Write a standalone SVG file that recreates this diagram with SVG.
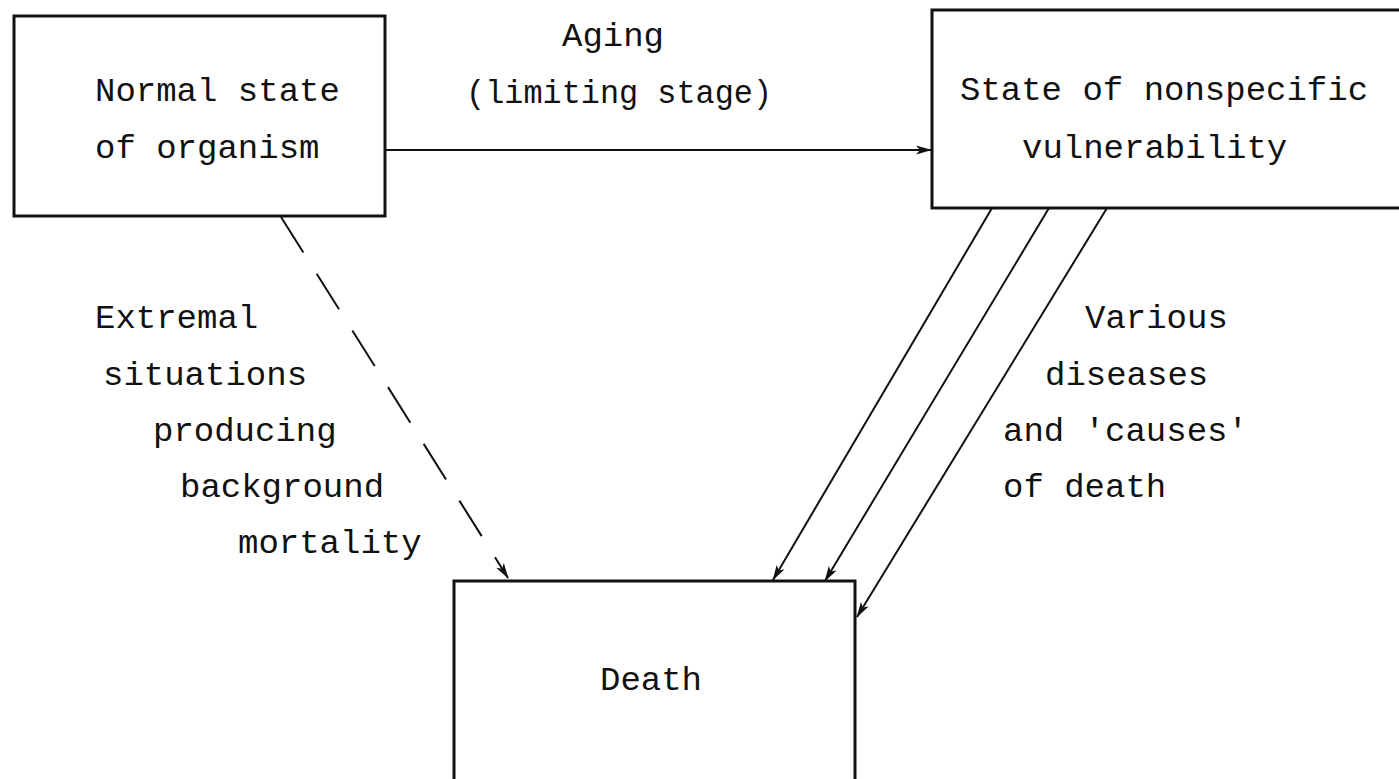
<svg xmlns="http://www.w3.org/2000/svg" width="1399" height="779" viewBox="0 0 1399 779">
<style>
.box{fill:#fff;stroke:#111;stroke-width:3}
.t{font-family:"Liberation Mono","DejaVu Sans Mono",monospace;font-size:34px;fill:#111}
.c{stroke:#111;stroke-width:2;fill:none}
</style>
<defs>
<marker id="ah" markerWidth="16" markerHeight="10" refX="15" refY="5" orient="auto" markerUnits="userSpaceOnUse">
<path d="M0,0.5 L16,5 L0,9.5 L4,5 Z" fill="#111"/>
</marker>
</defs>
<rect width="1399" height="779" fill="#fff"/>
<g id="connectors">
<line class="c" x1="385" y1="150" x2="931" y2="150" marker-end="url(#ah)"/>
<line class="c" x1="281" y1="217" x2="508" y2="578" stroke-dasharray="42,25" marker-end="url(#ah)"/>
<line class="c" x1="992" y1="208" x2="773" y2="580" marker-end="url(#ah)"/>
<line class="c" x1="1049" y1="208" x2="825" y2="581" marker-end="url(#ah)"/>
<line class="c" x1="1107" y1="208" x2="857" y2="617" marker-end="url(#ah)"/>
</g>
<g id="normal">
<rect class="box" x="14" y="16" width="371" height="200"/>
<text class="t" x="95" y="101">Normal state</text>
<text class="t" x="95" y="158">of organism</text>
</g>
<g id="vulnerable">
<rect class="box" x="932" y="10" width="480" height="198"/>
<text class="t" x="960" y="100">State of nonspecific</text>
<text class="t" x="1022" y="158">vulnerability</text>
</g>
<g id="death">
<rect class="box" x="454" y="581" width="401" height="210"/>
<text class="t" x="600" y="690">Death</text>
</g>
<g id="labels">
<text class="t" x="562" y="46">Aging</text>
<text class="t" x="466" y="103" textLength="306" lengthAdjust="spacingAndGlyphs">(limiting stage)</text>
<text class="t" x="95" y="328">Extremal</text>
<text class="t" x="103" y="385">situations</text>
<text class="t" x="153" y="441">producing</text>
<text class="t" x="180" y="497">background</text>
<text class="t" x="238" y="553">mortality</text>
<text class="t" x="1085" y="328">Various</text>
<text class="t" x="1045" y="385">diseases</text>
<text class="t" x="1003" y="441">and 'causes'</text>
<text class="t" x="1003" y="497">of death</text>
</g>
</svg>
